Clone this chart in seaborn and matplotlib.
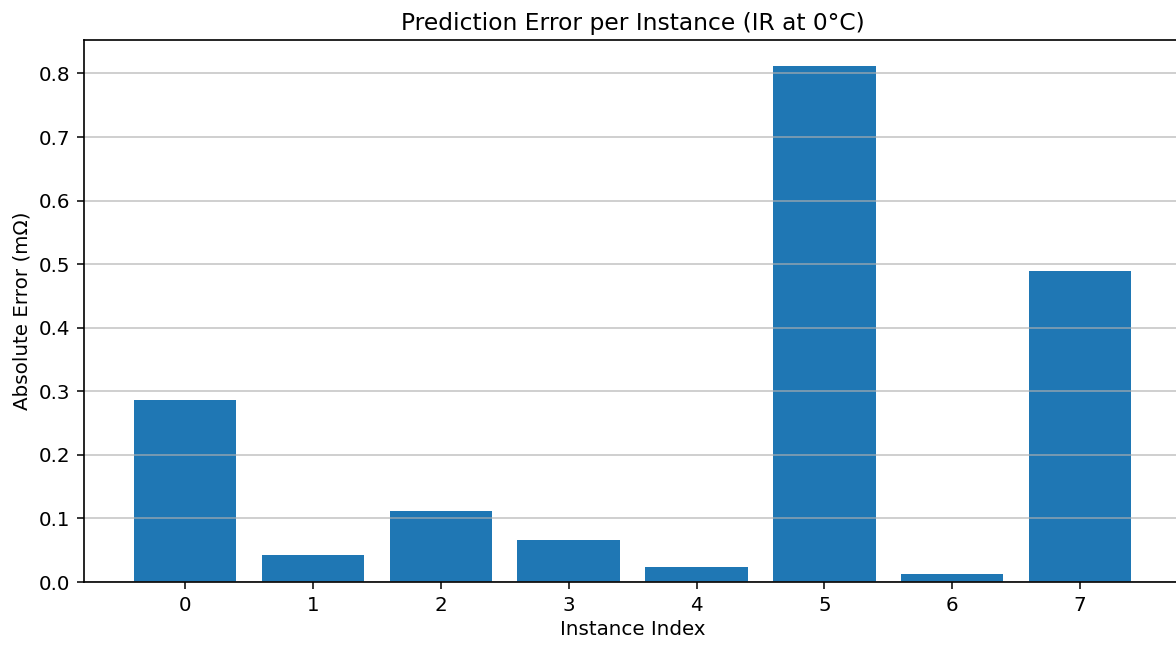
import matplotlib
matplotlib.use("Agg")
import matplotlib.pyplot as plt
import seaborn as sns
import pandas as pd

# values
instances = [0, 1, 2, 3, 4, 5, 6, 7]
abs_error = [0.287, 0.042, 0.112, 0.066, 0.023, 0.812, 0.012, 0.490]

df = pd.DataFrame({'Instance': instances, 'Error': abs_error})

fig = plt.figure(figsize=(11.76, 6.46), dpi=100)
ax = fig.add_axes([0.0714, 0.099, 0.933, 0.839])

sns.barplot(data=df, x='Instance', y='Error', color='#1f77b4', saturation=1,
            width=0.8, linewidth=0, ax=ax)

ax.grid(axis='y', color='#b0b0b0', linewidth=1.2, alpha=0.7)
ax.set_xlim(-0.79, 7.79)
ax.set_ylim(0, 0.8526)
ax.set_title('Prediction Error per Instance (IR at 0°C)', fontsize=16.8, pad=7)
ax.set_xlabel('Instance Index', fontsize=14.3, labelpad=4)
ax.set_ylabel('Absolute Error (mΩ)', fontsize=14.3, labelpad=5)
ax.tick_params(labelsize=14.3, length=5, width=1.1, pad=5)
for s in ax.spines.values():
    s.set_linewidth(1.2)

fig.savefig('out.png', dpi=100)
